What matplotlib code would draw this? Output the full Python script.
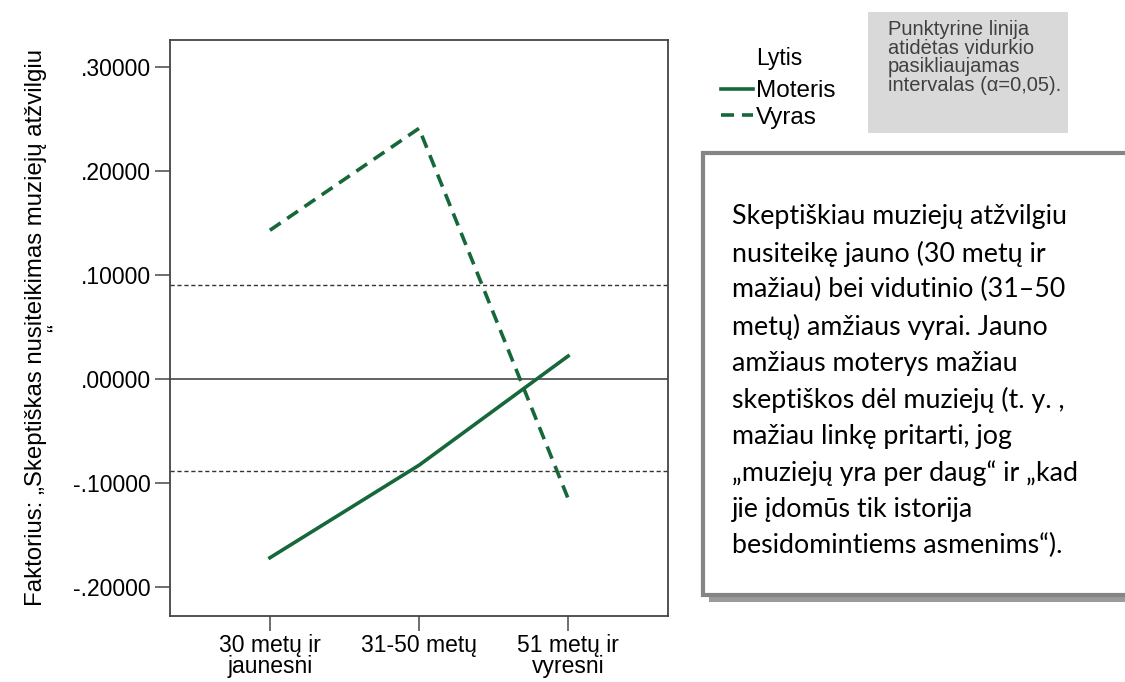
import matplotlib
matplotlib.use('Agg')
import matplotlib.pyplot as plt
from matplotlib.patches import Rectangle

# Duomenys
amzius = ['30 metų ir\njaunesni', '31-50 metų', '51 metų ir\nvyresni']
moteris = [-0.172, -0.083, 0.022]
vyras = [0.143, 0.241, -0.115]
pasikl_ribos = [0.090, -0.089]
y_ticks = [-0.2, -0.1, 0.0, 0.1, 0.2, 0.3]

zalia = '#16683a'
plt.rcParams['font.family'] = ['Liberation Sans', 'DejaVu Sans']

fig = plt.figure(figsize=(11.25, 6.82), dpi=100)
W, H = 1125, 682
ax = fig.add_axes([170 / W, 1 - 616 / H, (668 - 170) / W, (616 - 40) / H])

x = range(len(amzius))
ax.plot(x, moteris, color=zalia, lw=2.6, label='Moteris')
ax.plot(x, vyras, color=zalia, lw=2.6, dashes=(3.6, 2.2), label='Vyras')

# nulio linija ir pasikliautinis intervalas
ax.axhline(0, color='#555555', lw=1.3, zorder=1)
for r in pasikl_ribos:
    ax.axhline(r, color='#333333', lw=1.0, dashes=(3, 2), zorder=1)

ax.set_xlim(-0.67, 2.67)
ax.set_ylim(-0.228, 0.326)
ax.set_xticks(list(x))
ax.set_xticklabels(amzius, fontsize=16.5, linespacing=0.9)
ax.set_yticks(y_ticks)
ax.set_yticklabels([('-' if v < 0 else '') + ('%.5f' % abs(v))[1:] for v in y_ticks], fontsize=16.5)
ax.tick_params(axis='both', length=11, width=1.2, color='#555555')
ax.tick_params(axis='x', pad=2)
ax.tick_params(axis='y', pad=3)
for s in ax.spines.values():
    s.set_color('#444444')
    s.set_linewidth(1.3)

ax.set_ylabel('Faktorius: „Skeptiškas nusiteikimas muziejų atžvilgiu\n“',
              fontsize=17.3, linespacing=0.95, labelpad=3)

# legenda
fig.text(779 / W, 1 - 59 / H, 'Lytis', fontsize=16.5, ha='center', va='center')
leg = fig.legend(loc='upper left', bbox_to_anchor=(721 / W, 1 - 80 / H), frameon=False,
                 fontsize=17.5, handlelength=1.3, handletextpad=0.15, labelspacing=0.2,
                 borderaxespad=0, borderpad=0)

# pilkas paaiškinimas
fig.patches.append(Rectangle((868 / W, 1 - 133 / H), 200 / W, 121 / H,
                             transform=fig.transFigure, facecolor='#d9d9d9', edgecolor='none'))
fig.text(888 / W, 1 - 20 / H, 'Punktyrine linija\natidėtas vidurkio\npasikliaujamas\nintervalas (α=0,05).',
         fontsize=14.5, color='#404040', va='top', ha='left', linespacing=0.98)

# komentaro langelis su šešėliu
fig.patches.append(Rectangle((709 / W, 1 - 602 / H), 440 / W, 442 / H,
                             transform=fig.transFigure, facecolor='#9a9a9a', edgecolor='none'))
fig.patches.append(Rectangle((703 / W, 1 - 595 / H), 440 / W, 442 / H,
                             transform=fig.transFigure, facecolor='white', edgecolor='#858585', lw=3))
tekstas = ('Skeptiškiau muziejų atžvilgiu\n'
           'nusiteikę jauno (30 metų ir\n'
           'mažiau) bei vidutinio (31–50\n'
           'metų) amžiaus vyrai. Jauno\n'
           'amžiaus moterys mažiau\n'
           'skeptiškos dėl muziejų (t. y. ,\n'
           'mažiau linkę pritarti, jog\n'
           '„muziejų yra per daug“ ir „kad\n'
           'jie įdomūs tik istorija\n'
           'besidomintiems asmenims“).')
fig.text(732 / W, 1 - 204 / H, tekstas, fontsize=19.3, family=['Lato', 'DejaVu Sans'],
         va='top', ha='left', linespacing=1.54, color='black')

fig.savefig('out.png', dpi=100)
